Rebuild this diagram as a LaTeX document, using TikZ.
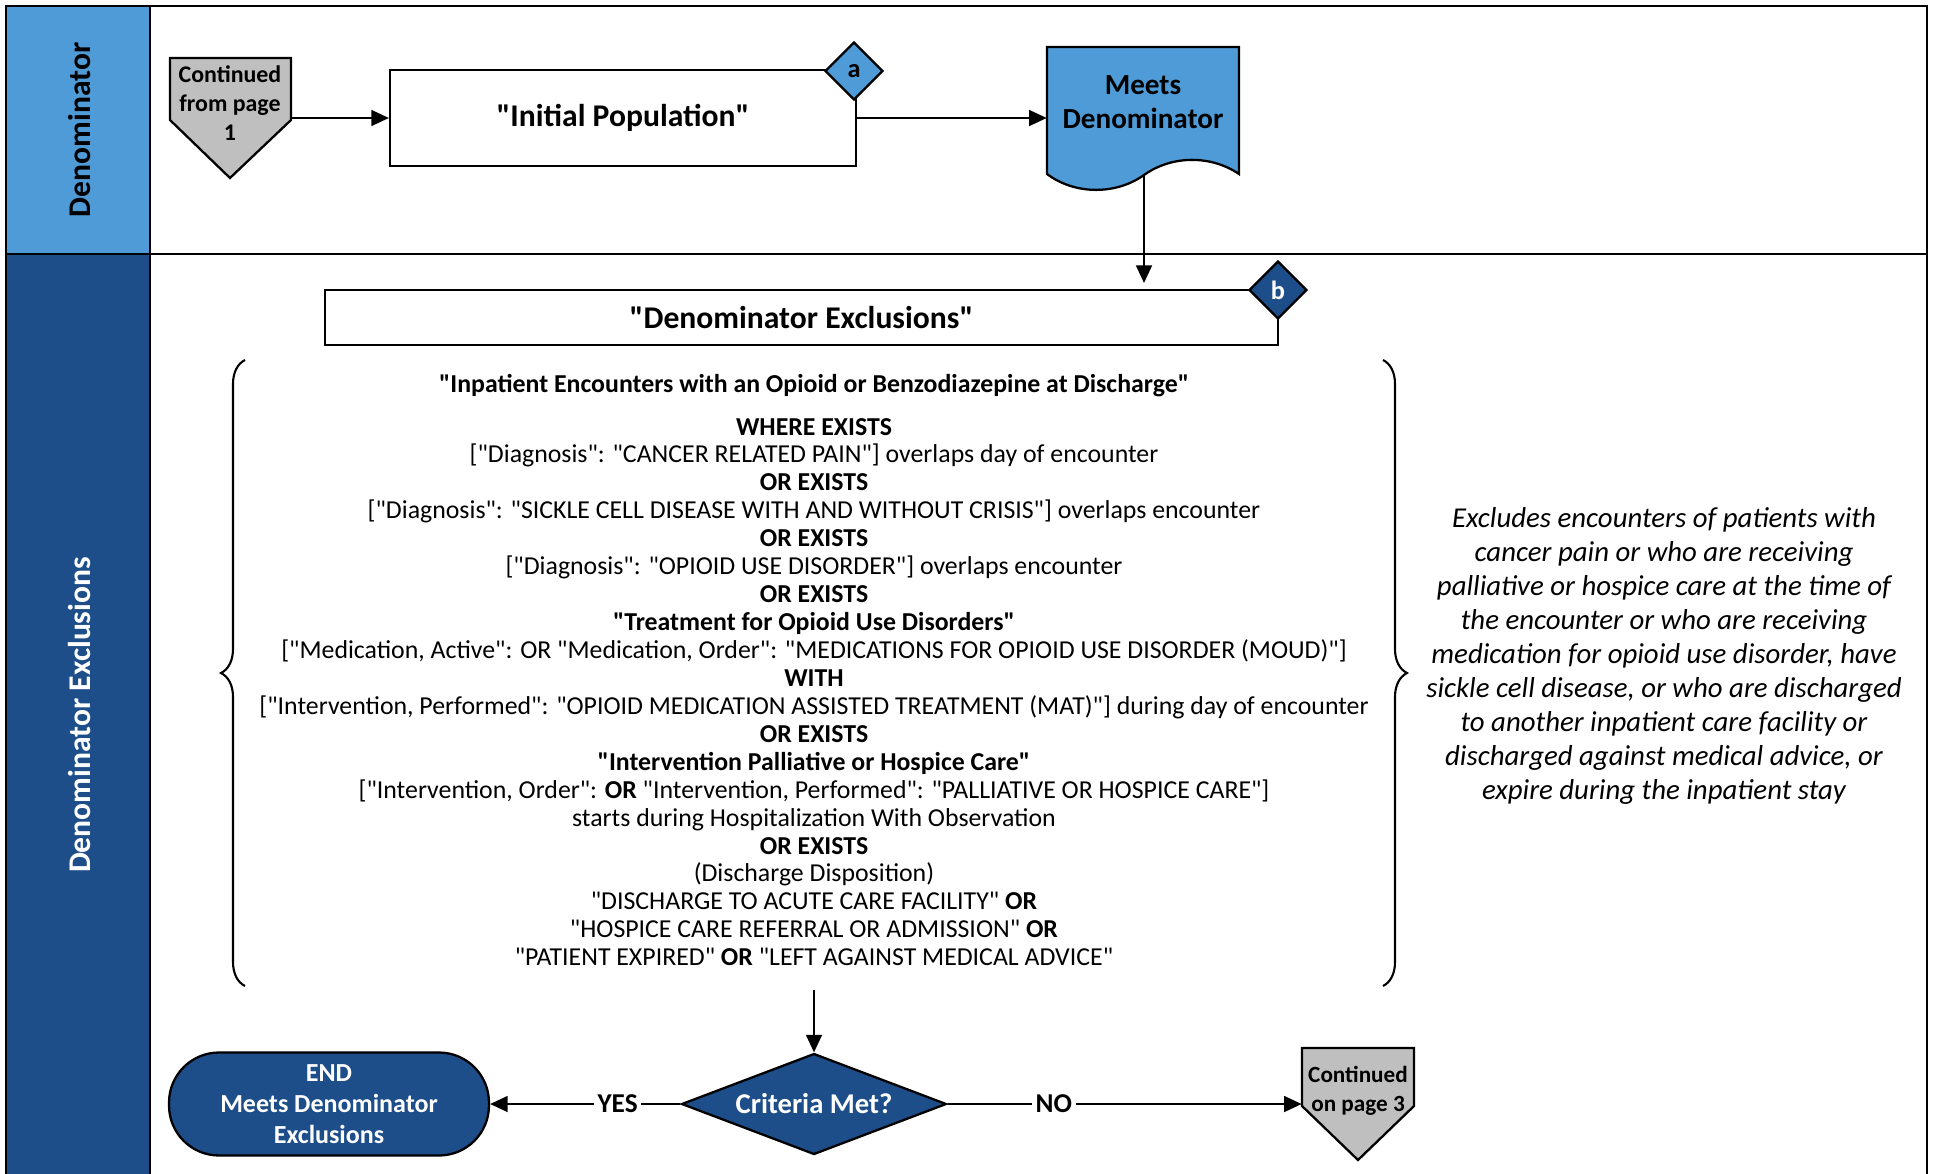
\documentclass[tikz,border=0pt]{standalone}
\usepackage{fontspec}
\setmainfont{Carlito}[Ligatures=TeXOff]
\usepackage{tikz}
\usetikzlibrary{shapes.geometric,arrows.meta,decorations.pathreplacing}
\usepackage{xcolor}
\definecolor{lanelight}{RGB}{79,155,215}
\definecolor{lanedark}{RGB}{29,78,137}
\definecolor{pagegray}{RGB}{191,191,191}

\tikzset{
  procbox/.style={rectangle,draw=black,fill=white,line width=1.3pt,font=\fontsize{18}{21}\selectfont\bfseries},
  refdiam/.style={diamond,draw=black,line width=1.3pt,inner sep=0pt,minimum size=1.16cm,font=\fontsize{15}{17}\selectfont\bfseries},
  arr/.style={-{Triangle[length=10pt,width=9pt]},line width=1.2pt},
  pagetext/.style={align=center,inner sep=0pt,font=\fontsize{13.6}{16.5}\selectfont\bfseries},
  lanetext/.style={rotate=90,font=\fontsize{18}{21}\selectfont\bfseries},
  crittext/.style={align=center,font=\fontsize{14.7}{15.9}\selectfont},
  answer/.style={fill=white,inner sep=2pt,font=\fontsize{15.5}{17}\selectfont\bfseries}
}

\begin{document}
\begin{tikzpicture}[x=0.02cm,y=-0.02cm]
  \useasboundingbox (0,0) rectangle (1933,1173);
  \draw[line width=1.3pt,fill=lanelight] (6,6) rectangle (150,254);
  \draw[line width=1.3pt,fill=lanedark] (6,254) rectangle (150,1190);
  \draw[line width=1.3pt] (6,1190) -- (6,6) -- (1927,6) -- (1927,1190);
  \draw[line width=1.3pt] (150,254) -- (1927,254);
  \node (lanetop) at (80,130) [lanetext] {Denominator};
  \node (lanebot) at (80,715) [lanetext,text=white] {Denominator Exclusions};

  \draw[line width=1.3pt,fill=pagegray] (170,58) -- (291,58) -- (291,120) -- (230,178) -- (170,120) -- cycle;
  \node (cont1) at (230,103) [pagetext,minimum width=2.42cm] {Continued\\from page\\1};
  \node (init) at (623,118) [procbox,minimum width=9.32cm,minimum height=1.92cm] {"Initial Population"};
  \node (refa) at (854,71) [refdiam,fill=lanelight] {a};
  \draw[line width=1.3pt,fill=lanelight] (1047,47) -- (1239,47) -- (1239,174)
    .. controls (1211,155) and (1172,155) .. (1144,175)
    .. controls (1116,195) and (1075,195) .. (1047,174) -- cycle;
  \node (meets) at (1143,102) [align=center,inner sep=0pt,minimum width=3.84cm,font=\fontsize{16.6}{19.6}\selectfont\bfseries] {Meets\\Denominator};
  \coordinate (wavemid) at (1144,175);
  \coordinate (exclin) at (1144,283);
  \draw[arr] (cont1.east |- init.west) -- (init.west);
  \draw[arr] (init.east) -- (init.east -| meets.west);
  \draw[arr] (wavemid) -- (exclin);

  \node (excl) at (801.5,317.5) [procbox,minimum width=19.06cm,minimum height=1.1cm] {"Denominator Exclusions"};
  \node (refb) at (1278,290) [refdiam,fill=lanedark,text=white] {b};

  \draw[line width=1.2pt,decorate,decoration={brace,amplitude=0.48cm}] (245,986) -- (245,360);
  \draw[line width=1.2pt,decorate,decoration={brace,amplitude=0.48cm}] (1383,360) -- (1383,986);
  \node (exclhead) at (814,386) [crittext,font=\fontsize{14.7}{15.9}\selectfont\bfseries] {"Inpatient Encounters with an Opioid or Benzodiazepine at Discharge"};
  \node (exclbody) at (814,692) [crittext] {\textbf{WHERE EXISTS}\\
    {[}"Diagnosis": "CANCER RELATED PAIN"] overlaps day of encounter\\
    \textbf{OR EXISTS}\\
    {[}"Diagnosis": "SICKLE CELL DISEASE WITH AND WITHOUT CRISIS"] overlaps encounter\\
    \textbf{OR EXISTS}\\
    {[}"Diagnosis": "OPIOID USE DISORDER"] overlaps encounter\\
    \textbf{OR EXISTS}\\
    \textbf{"Treatment for Opioid Use Disorders"}\\
    {[}"Medication, Active": OR "Medication, Order": "MEDICATIONS FOR OPIOID USE DISORDER (MOUD)"]\\
    \textbf{WITH}\\
    {[}"Intervention, Performed": "OPIOID MEDICATION ASSISTED TREATMENT (MAT)"] during day of encounter\\
    \textbf{OR EXISTS}\\
    \textbf{"Intervention Palliative or Hospice Care"}\\
    {[}"Intervention, Order": \textbf{OR} "Intervention, Performed": "PALLIATIVE OR HOSPICE CARE"]\\
    starts during Hospitalization With Observation\\
    \textbf{OR EXISTS}\\
    (Discharge Disposition)\\
    "DISCHARGE TO ACUTE CARE FACILITY" \textbf{OR}\\
    "HOSPICE CARE REFERRAL OR ADMISSION" \textbf{OR}\\
    "PATIENT EXPIRED" \textbf{OR} "LEFT AGAINST MEDICAL ADVICE"};
  \node (note) at (1664,656) [align=center,font=\fontsize{16.4}{19.3}\selectfont\itshape] {Excludes encounters of patients with\\
    cancer pain or who are receiving\\
    palliative or hospice care at the time of\\
    the encounter or who are receiving\\
    medication for opioid use disorder, have\\
    sickle cell disease, or who are discharged\\
    to another inpatient care facility or\\
    discharged against medical advice, or\\
    expire during the inpatient stay};
  \coordinate (bodyout) at (814,990);

  \node (crit) at (814,1104) [diamond,draw=black,fill=lanedark,line width=1.3pt,minimum width=5.3cm,minimum height=2.02cm,aspect=2.6,inner sep=0pt,text=white,font=\fontsize{16.3}{18}\selectfont\bfseries] {Criteria Met?};
  \node (endn) at (329,1104) [rectangle,rounded corners=1cm,draw=black,fill=lanedark,line width=1.3pt,minimum width=6.4cm,minimum height=2.06cm,align=center,text=white,font=\fontsize{14.8}{17.6}\selectfont\bfseries] {END\\Meets Denominator\\Exclusions};
  \draw[line width=1.3pt,fill=pagegray] (1302,1048) -- (1414,1048) -- (1414,1106) -- (1358,1160) -- (1302,1106) -- cycle;
  \node (cont3) at (1358,1091) [pagetext,minimum width=2.24cm,font=\fontsize{13.2}{16.5}\selectfont\bfseries] {Continued\\on page 3};
  \draw[arr] (bodyout) -- (crit.north);
  \draw[arr] (crit.west) -- node[answer,pos=0.33] {YES} (endn.east);
  \draw[arr] (crit.east) -- node[answer,pos=0.3] {NO} (crit.east -| cont3.west);
\end{tikzpicture}
\end{document}
